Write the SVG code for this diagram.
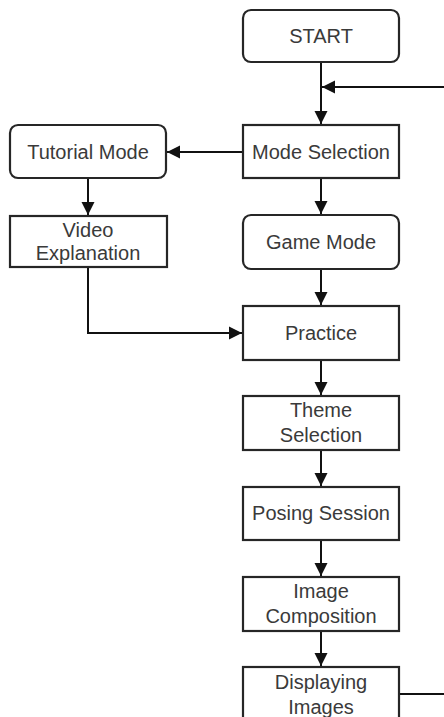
<svg xmlns="http://www.w3.org/2000/svg" width="444" height="717" viewBox="0 0 444 717">
  <style>
    .box { fill: #ffffff; stroke: #262626; stroke-width: 2.2; }
    .lbl { font-family: "Liberation Sans", Arial, sans-serif; font-size: 20px; fill: #3a3a3a; text-anchor: middle; }
    .edge { fill: none; stroke: #111111; stroke-width: 2; }
    .arrow { marker-end: url(#head); }
  </style>
  <defs>
    <marker id="head" markerUnits="userSpaceOnUse" markerWidth="16" markerHeight="16" viewBox="0 0 16 16" refX="14" refY="8" orient="auto">
      <path d="M1,1.5 L14,8 L1,14.5 Z" fill="#111111"/>
    </marker>
  </defs>
  <rect width="444" height="717" fill="#ffffff"/>

  <g id="connectors">
    <path class="edge arrow" d="M321,62 V124"/>
    <path class="edge arrow" d="M444,87 H322"/>
    <path class="edge arrow" d="M243,152 H167"/>
    <path class="edge arrow" d="M321,178 V214"/>
    <path class="edge arrow" d="M88,178 V215"/>
    <path class="edge arrow" d="M88,267 V333 H242"/>
    <path class="edge arrow" d="M321,269 V305"/>
    <path class="edge arrow" d="M321,360 V395"/>
    <path class="edge arrow" d="M321,450 V486"/>
    <path class="edge arrow" d="M321,540 V576"/>
    <path class="edge arrow" d="M321,631 V666"/>
    <path class="edge" d="M399,694 H444"/>
  </g>

  <g id="start">
    <rect class="box" x="243" y="10" width="156" height="52" rx="8"/>
    <text class="lbl" x="321" y="43">START</text>
  </g>
  <g id="mode-selection">
    <rect class="box" x="243" y="125" width="156" height="53"/>
    <text class="lbl" x="321" y="159">Mode Selection</text>
  </g>
  <g id="tutorial-mode">
    <rect class="box" x="10" y="125" width="156" height="53" rx="8"/>
    <text class="lbl" x="88" y="159">Tutorial Mode</text>
  </g>
  <g id="video-explanation">
    <rect class="box" x="10" y="216" width="157" height="51"/>
    <text class="lbl" x="88" y="237">Video</text>
    <text class="lbl" x="88" y="260">Explanation</text>
  </g>
  <g id="game-mode">
    <rect class="box" x="243" y="215" width="156" height="54" rx="8"/>
    <text class="lbl" x="321" y="249">Game Mode</text>
  </g>
  <g id="practice">
    <rect class="box" x="243" y="306" width="156" height="54"/>
    <text class="lbl" x="321" y="340">Practice</text>
  </g>
  <g id="theme-selection">
    <rect class="box" x="243" y="396" width="156" height="54"/>
    <text class="lbl" x="321" y="417">Theme</text>
    <text class="lbl" x="321" y="442">Selection</text>
  </g>
  <g id="posing-session">
    <rect class="box" x="243" y="487" width="156" height="53"/>
    <text class="lbl" x="321" y="520">Posing Session</text>
  </g>
  <g id="image-composition">
    <rect class="box" x="243" y="577" width="156" height="54"/>
    <text class="lbl" x="321" y="598">Image</text>
    <text class="lbl" x="321" y="623">Composition</text>
  </g>
  <g id="displaying-images">
    <rect class="box" x="243" y="667" width="156" height="56"/>
    <text class="lbl" x="321" y="689">Displaying</text>
    <text class="lbl" x="321" y="714">Images</text>
  </g>
</svg>
